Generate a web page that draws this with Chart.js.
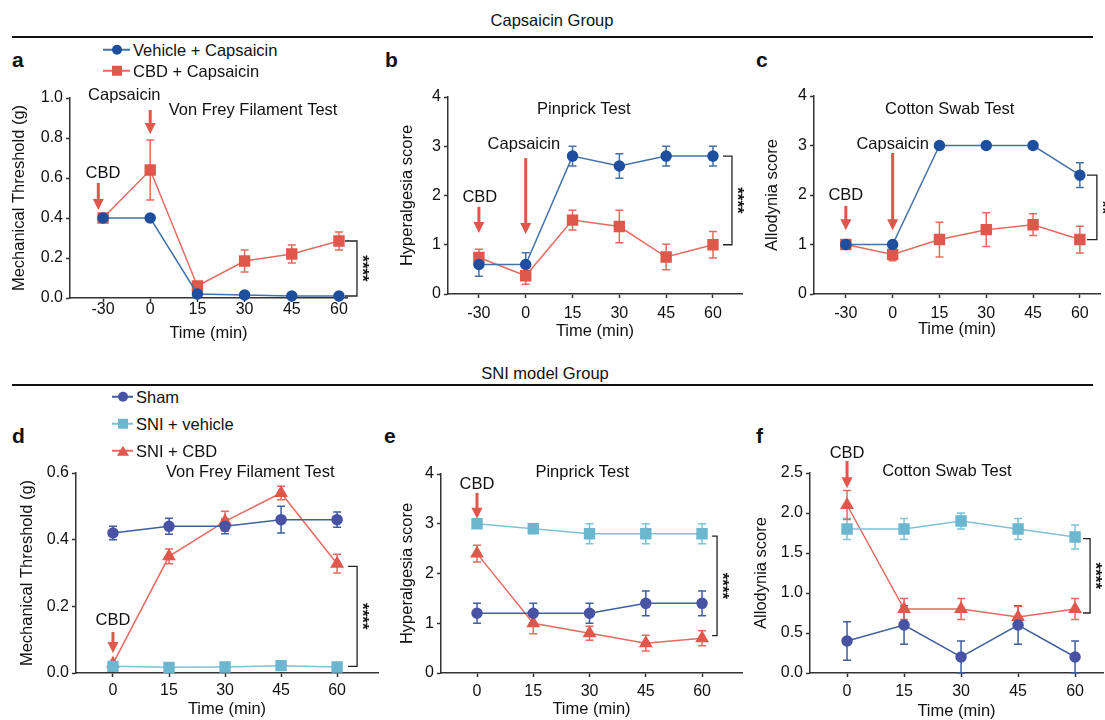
<!DOCTYPE html>
<html>
<head>
<meta charset="utf-8">
<script src="https://cdn.jsdelivr.net/npm/chart.js@4"></script>
<style>
  body { margin: 0; width: 1105px; height: 720px; overflow: hidden; background: #fff; position: relative;
         font-family: "Liberation Sans", Arial, sans-serif; color: #111; }
  canvas { position: absolute; }
  .t { position: absolute; white-space: nowrap; line-height: 1; font-size: 16.5px; transform: translate(-50%, -50%); }
  .let { position: absolute; line-height: 1; font-size: 21px; font-weight: bold; transform: translateY(-50%); }
  .rule { position: absolute; left: 12px; width: 1081px; height: 2px; background: #111; }
  .lg { position: absolute; display: flex; align-items: center; transform: translateY(-50%); font-size: 16.5px; line-height: 1; white-space: nowrap; }
  .ln { position: relative; height: 2px; margin-right: 3px; }
  .mk { position: absolute; left: 50%; top: 50%; transform: translate(-50%, -50%); }
  .circle { width: 10px; height: 10px; border-radius: 50%; background: var(--c); }
  .rect { width: 10px; height: 10px; background: var(--c); }
  .tri { width: 0; height: 0; border-left: 6px solid transparent; border-right: 6px solid transparent; border-bottom: 10px solid var(--c); }
</style>
</head>
<body>
<div class="t" style="left:552px;top:20px">Capsaicin Group</div>
<div class="rule" style="top:36px"></div>
<div class="t" style="left:545px;top:373px">SNI model Group</div>
<div class="rule" style="top:384px"></div>
<div class="let" style="left:12px;top:59px">a</div>
<div class="let" style="left:385px;top:59px">b</div>
<div class="let" style="left:756px;top:59px">c</div>
<div class="let" style="left:12px;top:435px">d</div>
<div class="let" style="left:384px;top:435px">e</div>
<div class="let" style="left:756px;top:435px">f</div>

<script>
// ---- data ----
const capsTimes = ['-30', '0', '15', '30', '45', '60'];
const sniTimes = ['0', '15', '30', '45', '60'];
const capsGroups = ['Vehicle + Capsaicin', 'CBD + Capsaicin'];
const sniGroups = ['Sham', 'SNI + vehicle', 'SNI + CBD'];

// a: Von Frey (capsaicin)
const aVehicle = [0.40, 0.40, 0.02, 0.015, 0.01, 0.01];
const aVehicleErr = [0, 0, 0, 0, 0, 0];
const aCbd = [0.40, 0.64, 0.06, 0.185, 0.22, 0.285];
const aCbdErr = [0, 0.15, 0.01, 0.055, 0.045, 0.045];

// b: Pinprick (capsaicin)
const bVehicle = [0.6, 0.6, 2.8, 2.6, 2.8, 2.8];
const bVehicleErr = [0.24, 0.24, 0.2, 0.25, 0.2, 0.2];
const bCbd = [0.74, 0.37, 1.5, 1.37, 0.75, 1.0];
const bCbdErr = [0.17, 0.17, 0.2, 0.33, 0.26, 0.27];

// c: Cotton swab (capsaicin)
const cVehicle = [1, 1, 3, 3, 3, 2.4];
const cVehicleErr = [0, 0, 0, 0, 0, 0.25];
const cCbd = [1.0, 0.8, 1.1, 1.3, 1.4, 1.1];
const cCbdErr = [0.04, 0.13, 0.35, 0.34, 0.22, 0.27];

// d: Von Frey (SNI)
const dSham = [0.42, 0.44, 0.44, 0.46, 0.46];
const dShamErr = [0.02, 0.024, 0.022, 0.04, 0.023];
const dVehicle = [0.02, 0.017, 0.018, 0.022, 0.018];
const dVehicleErr = [0.004, 0.004, 0.004, 0.004, 0.004];
const dCbd = [0.028, 0.35, 0.455, 0.54, 0.328];
const dCbdErr = [0, 0.022, 0.03, 0.02, 0.028];

// e: Pinprick (SNI)
const eSham = [1.2, 1.2, 1.2, 1.4, 1.4];
const eShamErr = [0.2, 0.2, 0.2, 0.25, 0.25];
const eVehicle = [3.0, 2.9, 2.8, 2.8, 2.8];
const eVehicleErr = [0, 0.05, 0.2, 0.2, 0.2];
const eCbd = [2.4, 1.0, 0.8, 0.6, 0.7];
const eCbdErr = [0.17, 0.21, 0.14, 0.16, 0.15];

// f: Cotton swab (SNI)
const fSham = [0.4, 0.6, 0.2, 0.6, 0.2];
const fShamErr = [0.24, 0.24, 0.2, 0.24, 0.2];
const fVehicle = [1.8, 1.8, 1.9, 1.8, 1.7];
const fVehicleErr = [0.13, 0.13, 0.1, 0.13, 0.15];
const fCbd = [2.1, 0.8, 0.8, 0.7, 0.8];
const fCbdErr = [0.18, 0.13, 0.13, 0.13, 0.13];

// ---- styles ----
Chart.defaults.font.family = '"Liberation Sans", Arial, sans-serif';
Chart.defaults.color = '#111';
Chart.defaults.animation = false;

const FONT = '16.5px "Liberation Sans", Arial, sans-serif';
const RED = { mark: '#e0574b', line: '#e66a5f', shape: 'rect' };
const NAVY = { mark: '#1e4f9e', line: '#4272aa', shape: 'circle' };
const SHAM = { mark: '#4853a3', line: '#3f5f9e', shape: 'circle' };
const TEAL = { mark: '#6bb7cf', line: '#7cc2d8', shape: 'rect' };
const REDTRI = { mark: '#e0574b', line: '#e66a5f', shape: 'triangle' };
const ARROW = '#e0574b';

function series(name, values, errs, st) {
  const r = st.shape === 'rect' ? 7 : st.shape === 'triangle' ? 6.5 : 5;
  return {
    label: name,
    data: values.map((v, i) => ({ x: i, y: v })),
    err: errs,
    borderColor: st.line,
    backgroundColor: st.mark,
    pointBackgroundColor: st.mark,
    pointBorderColor: st.mark,
    pointStyle: st.shape,
    pointRadius: r,
    pointHoverRadius: r,
    borderWidth: 1.5,
    tension: 0,
    clip: false
  };
}

const errorBars = {
  id: 'errorBars',
  beforeDatasetsDraw(chart) {
    const { ctx, scales: { x, y } } = chart;
    chart.data.datasets.forEach(ds => {
      ctx.save();
      ctx.strokeStyle = ds.borderColor;
      ctx.lineWidth = 1.5;
      ds.data.forEach((p, i) => {
        const e = ds.err[i];
        if (!e) return;
        const px = x.getPixelForValue(p.x);
        const top = y.getPixelForValue(p.y + e);
        const bot = y.getPixelForValue(p.y - e);
        ctx.beginPath();
        ctx.moveTo(px, top); ctx.lineTo(px, bot);
        ctx.moveTo(px - 4, top); ctx.lineTo(px + 4, top);
        ctx.moveTo(px - 4, bot); ctx.lineTo(px + 4, bot);
        ctx.stroke();
      });
      ctx.restore();
    });
  }
};

const notes = {
  id: 'notes',
  afterDraw(chart, args, opts) {
    const { ctx, scales: { x, y } } = chart;
    ctx.save();
    ctx.font = FONT;
    ctx.fillStyle = '#111';
    ctx.textAlign = 'center';
    ctx.textBaseline = 'middle';
    (opts.texts || []).forEach(t => ctx.fillText(t.text, x.getPixelForValue(t.x), y.getPixelForValue(t.y)));

    (opts.arrows || []).forEach(a => {
      const px = x.getPixelForValue(a.x), y0 = y.getPixelForValue(a.from), y1 = y.getPixelForValue(a.to);
      ctx.strokeStyle = ARROW; ctx.fillStyle = ARROW; ctx.lineWidth = 3;
      ctx.beginPath(); ctx.moveTo(px, y0); ctx.lineTo(px, y1 - 9); ctx.stroke();
      ctx.beginPath(); ctx.moveTo(px - 5.5, y1 - 11); ctx.lineTo(px + 5.5, y1 - 11); ctx.lineTo(px, y1); ctx.closePath(); ctx.fill();
    });

    const b = opts.bracket;
    if (b) {
      const px = x.getPixelForValue(b.x), t = y.getPixelForValue(b.top), bt = y.getPixelForValue(b.bot);
      ctx.strokeStyle = '#222'; ctx.lineWidth = 1.3;
      ctx.beginPath();
      ctx.moveTo(px + b.a0, t); ctx.lineTo(px + b.a1, t); ctx.lineTo(px + b.a1, bt); ctx.lineTo(px + b.a0, bt);
      ctx.stroke();
      ctx.fillStyle = '#111';
      ctx.font = 'bold 17px "Liberation Sans", Arial, sans-serif';
      ctx.translate(px + b.a1 + 5, (t + bt) / 2);
      ctx.rotate(Math.PI / 2);
      ctx.fillText(b.stars, 0, 0);
    }
    ctx.restore();
  }
};

function panel(box, xLabels, yMax, yStep, yDigits, yTitle, datasets, note) {
  const cv = document.createElement('canvas');
  cv.width = box.width; cv.height = box.height;
  cv.style.left = box.left + 'px'; cv.style.top = box.top + 'px';
  document.body.appendChild(cv);
  const xH = box.height - (box.y1 - box.top);
  const yW = box.x0 - box.left;
  new Chart(cv, {
    type: 'line',
    data: { datasets },
    options: {
      responsive: false,
      devicePixelRatio: 1,
      layout: { autoPadding: false, padding: { left: 0, top: box.y0 - box.top, right: box.left + box.width - box.x1, bottom: 0 } },
      plugins: { legend: { display: false }, tooltip: { enabled: false }, notes: note },
      scales: {
        x: {
          type: 'linear', min: box.xMin, max: box.xMax,
          afterBuildTicks: s => { s.ticks = xLabels.map((_, i) => ({ value: i })); },
          afterFit: s => { s.height = xH; },
          ticks: { callback: v => xLabels[v], padding: box.tickPad, autoSkip: false, maxRotation: 0,
                   font: { size: 16, lineHeight: 1 }, color: '#111' },
          grid: { drawOnChartArea: false, tickLength: 4, tickWidth: 1.5, tickColor: '#333' },
          border: { color: '#333', width: 1.5 },
          title: { display: true, text: 'Time (min)', font: { size: 16.5 }, padding: { top: 0, bottom: 0 }, color: '#111' }
        },
        y: {
          min: 0, max: yMax,
          afterFit: s => { s.width = yW; },
          ticks: { stepSize: yStep, callback: v => v.toFixed(yDigits), padding: 3,
                   font: { size: 16, lineHeight: 1 }, color: '#111' },
          grid: { drawOnChartArea: false, tickLength: 4, tickWidth: 1.5, tickColor: '#333' },
          border: { color: '#333', width: 1.5 },
          title: { display: true, text: yTitle, font: { size: 16.5 }, padding: { top: box.yPad, bottom: 0 }, color: '#111' }
        }
      }
    },
    plugins: [errorBars, notes]
  });
}

function legend(x, lineW, ys, names, styles) {
  names.forEach((n, i) => {
    const st = styles[i];
    const shape = st.shape === 'triangle' ? 'tri' : st.shape;
    const row = document.createElement('div');
    row.className = 'lg';
    row.style.left = x + 'px';
    row.style.top = ys[i] + 'px';
    row.innerHTML = '<span class="ln" style="width:' + lineW + 'px;background:' + st.line + '"><span class="mk ' + shape +
      '" style="--c:' + st.mark + '"></span></span>' + n;
    document.body.appendChild(row);
  });
}

// ---- panels ----
panel({ left: 0, top: 70, width: 375, height: 273, x0: 70, y0: 98, x1: 347, y1: 298, xMin: -0.7, xMax: 5.17, tickPad: 0, yPad: 10 },
  capsTimes, 1.0, 0.2, 1, 'Mechanical Threshold (g)',
  [series(capsGroups[0], aVehicle, aVehicleErr, NAVY), series(capsGroups[1], aCbd, aCbdErr, RED)],
  { texts: [{ text: 'CBD', x: 0, y: 0.625 }, { text: 'Capsaicin', x: 0.45, y: 1.015 }, { text: 'Von Frey Filament Test', x: 3.18, y: 0.94 }],
    arrows: [{ x: -0.1, from: 0.575, to: 0.44 }, { x: 1, from: 0.94, to: 0.82 }],
    bracket: { x: 5, top: 0.285, bot: 0.01, a0: 6, a1: 18, stars: '****' } });

panel({ left: 380, top: 70, width: 370, height: 271, x0: 448, y0: 97, x1: 742, y1: 294, xMin: -0.66, xMax: 5.62, tickPad: 8, yPad: 18 },
  capsTimes, 4, 1, 0, 'Hyperalgesia score',
  [series(capsGroups[0], bVehicle, bVehicleErr, NAVY), series(capsGroups[1], bCbd, bCbdErr, RED)],
  { texts: [{ text: 'CBD', x: 0.02, y: 1.97 }, { text: 'Capsaicin', x: 0.96, y: 3.03 }, { text: 'Pinprick Test', x: 2.24, y: 3.74 }],
    arrows: [{ x: 0, from: 1.77, to: 1.24 }, { x: 1, from: 2.76, to: 1.22 }],
    bracket: { x: 5, top: 2.8, bot: 1.0, a0: 10, a1: 19, stars: '****' } });

panel({ left: 752, top: 70, width: 353, height: 269, x0: 814, y0: 96, x1: 1100, y1: 294, xMin: -0.68, xMax: 5.43, tickPad: 8, yPad: 11 },
  capsTimes, 4, 1, 0, 'Allodynia score',
  [series(capsGroups[0], cVehicle, cVehicleErr, NAVY), series(capsGroups[1], cCbd, cCbdErr, RED)],
  { texts: [{ text: 'CBD', x: 0, y: 2.0 }, { text: 'Capsaicin', x: 1, y: 3.03 }, { text: 'Cotton Swab Test', x: 2.22, y: 3.72 }],
    arrows: [{ x: 0, from: 1.78, to: 1.29 }, { x: 1, from: 2.85, to: 1.29 }],
    bracket: { x: 5, top: 2.4, bot: 1.1, a0: 7, a1: 17, stars: '**' } });

panel({ left: 0, top: 440, width: 380, height: 279, x0: 76, y0: 473, x1: 378, y1: 673, xMin: -0.66, xMax: 4.73, tickPad: 6, yPad: 18 },
  sniTimes, 0.6, 0.2, 1, 'Mechanical Threshold (g)',
  [series(sniGroups[0], dSham, dShamErr, SHAM), series(sniGroups[1], dVehicle, dVehicleErr, TEAL), series(sniGroups[2], dCbd, dCbdErr, REDTRI)],
  { texts: [{ text: 'CBD', x: 0, y: 0.159 }, { text: 'Von Frey Filament Test', x: 2.45, y: 0.603 }],
    arrows: [{ x: 0, from: 0.123, to: 0.06 }],
    bracket: { x: 4, top: 0.32, bot: 0.02, a0: 11, a1: 20, stars: '****' } });

panel({ left: 380, top: 440, width: 370, height: 279, x0: 441, y0: 474, x1: 742, y1: 673, xMin: -0.64, xMax: 4.71, tickPad: 7, yPad: 18 },
  sniTimes, 4, 1, 0, 'Hyperalgesia score',
  [series(sniGroups[0], eSham, eShamErr, SHAM), series(sniGroups[1], eVehicle, eVehicleErr, TEAL), series(sniGroups[2], eCbd, eCbdErr, REDTRI)],
  { texts: [{ text: 'CBD', x: 0, y: 3.78 }, { text: 'Pinprick Test', x: 1.87, y: 4.04 }],
    arrows: [{ x: 0, from: 3.62, to: 3.1 }],
    bracket: { x: 4, top: 2.75, bot: 0.75, a0: 10, a1: 15, stars: '****' } });

panel({ left: 752, top: 440, width: 353, height: 281, x0: 810, y0: 473, x1: 1103, y1: 673, xMin: -0.65, xMax: 4.49, tickPad: 7, yPad: 0 },
  sniTimes, 2.5, 0.5, 1, 'Allodynia score',
  [series(sniGroups[0], fSham, fShamErr, SHAM), series(sniGroups[1], fVehicle, fVehicleErr, TEAL), series(sniGroups[2], fCbd, fCbdErr, REDTRI)],
  { texts: [{ text: 'CBD', x: 0, y: 2.75 }, { text: 'Cotton Swab Test', x: 1.75, y: 2.52 }],
    arrows: [{ x: 0, from: 2.65, to: 2.31 }],
    bracket: { x: 4, top: 1.68, bot: 0.75, a0: 8, a1: 15, stars: '****' } });

legend(103, 27, [50, 71], capsGroups, [NAVY, RED]);
legend(112, 21, [397, 424, 451], sniGroups, [SHAM, TEAL, REDTRI]);
</script>
</body>
</html>
